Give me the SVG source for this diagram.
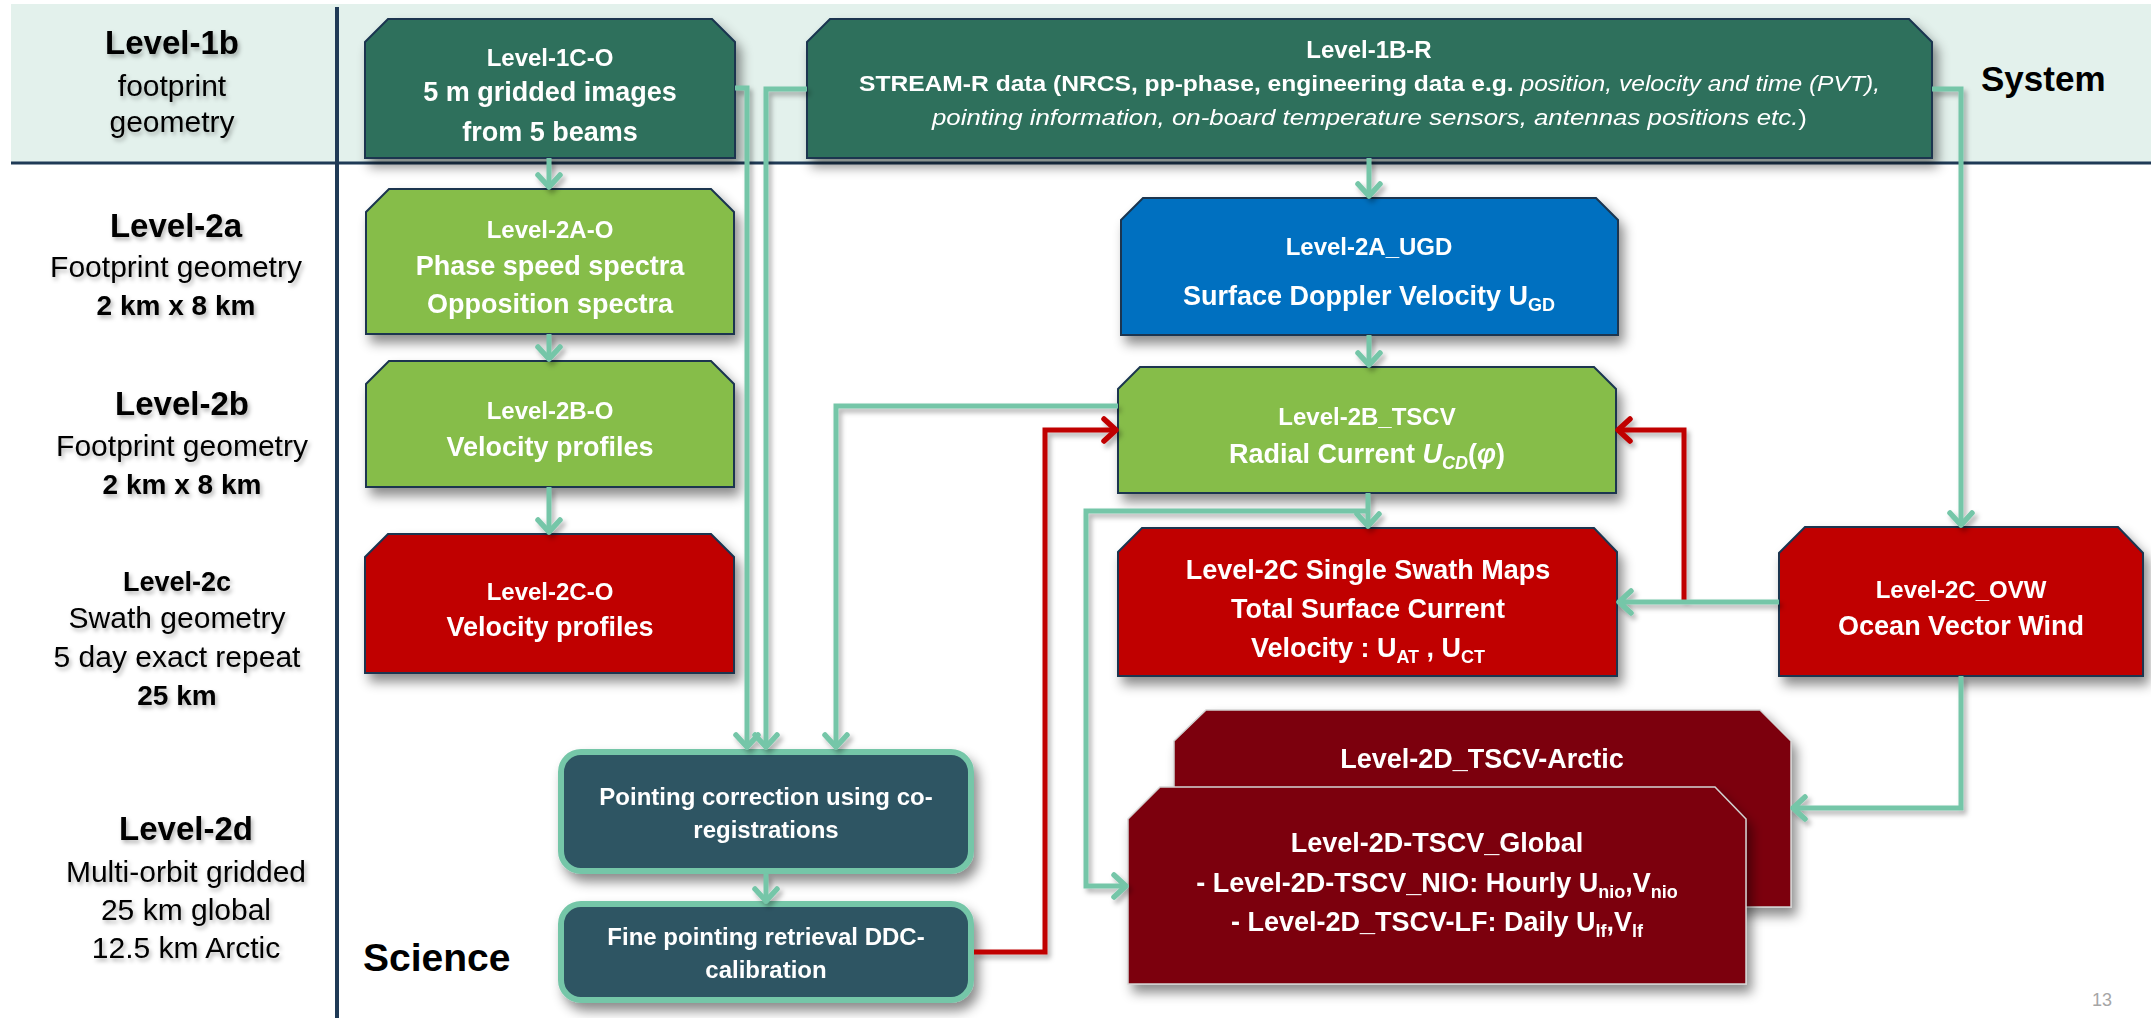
<svg xmlns="http://www.w3.org/2000/svg" width="2151" height="1018" viewBox="0 0 2151 1018">
<defs>
<style>
text{font-family:"Liberation Sans",Arial,sans-serif;}
.lb{fill:#000;font-weight:bold;text-anchor:middle;font-size:33px}
.lr{fill:#000;text-anchor:middle;font-size:30px}
.ls{fill:#000;font-weight:bold;text-anchor:middle;font-size:28px}
.nt{fill:#fff;font-weight:bold;text-anchor:middle;font-size:24px}
.nc{fill:#fff;font-weight:bold;text-anchor:middle;font-size:27px}
.node{stroke:#1b3550;stroke-width:2}
.dg{fill:#2f705c}
.lg{fill:#86bd4a}
.bl{fill:#0070c0}
.rd{fill:#c00000}
.dr{fill:#7b000b;stroke:#d4d4d4;stroke-width:1.5}
.pc{fill:#2e5463;stroke:#75c6a8;stroke-width:6}
.cm{fill:none;stroke:#75c6a8;stroke-width:5;marker-end:url(#am)}
.cr{fill:none;stroke:#c00000;stroke-width:5;marker-end:url(#ar)}
</style>
<filter id="sh" x="-10%" y="-10%" width="130%" height="140%">
<feDropShadow dx="5" dy="8" stdDeviation="6" flood-color="#000" flood-opacity="0.45"/>
</filter>
<filter id="csh" x="-10%" y="-10%" width="130%" height="130%">
<feDropShadow dx="3" dy="4" stdDeviation="2.5" flood-color="#000" flood-opacity="0.3"/>
</filter>
<filter id="tsh" x="-10%" y="-20%" width="130%" height="160%">
<feDropShadow dx="2" dy="3" stdDeviation="2" flood-color="#000" flood-opacity="0.3"/>
</filter>
<marker id="am" viewBox="0 0 20 28" refX="16" refY="14" markerWidth="20" markerHeight="28" markerUnits="userSpaceOnUse" orient="auto">
<path d="M4,3 L16,14 L4,25" fill="none" stroke="#75c6a8" stroke-width="5.5" stroke-linecap="round" stroke-linejoin="round"/>
</marker>
<marker id="ar" viewBox="0 0 20 28" refX="16" refY="14" markerWidth="20" markerHeight="28" markerUnits="userSpaceOnUse" orient="auto">
<path d="M4,3 L16,14 L4,25" fill="none" stroke="#c00000" stroke-width="5.5" stroke-linecap="round" stroke-linejoin="round"/>
</marker>
</defs>

<rect x="0" y="0" width="2151" height="1018" fill="#fff"/>
<rect x="11" y="4" width="2140" height="159" fill="#e3f1ec"/>
<line x1="11" y1="163" x2="2151" y2="163" stroke="#1f3a56" stroke-width="3"/>
<line x1="337" y1="7" x2="337" y2="1018" stroke="#1f3a56" stroke-width="4"/>

<g id="left-labels" filter="url(#tsh)">
<text class="lb" x="172" y="54">Level-1b</text>
<text class="lr" x="172" y="96">footprint</text>
<text class="lr" x="172" y="132">geometry</text>
<text class="lb" x="176" y="237">Level-2a</text>
<text class="lr" x="176" y="277">Footprint  geometry</text>
<text class="ls" x="176" y="315">2 km x 8 km</text>
<text class="lb" x="182" y="415">Level-2b</text>
<text class="lr" x="182" y="456">Footprint  geometry</text>
<text class="ls" x="182" y="494">2 km x 8 km</text>
<text class="ls" x="177" y="591" style="font-size:27px">Level-2c</text>
<text class="lr" x="177" y="628">Swath geometry</text>
<text class="lr" x="177" y="667">5 day exact repeat</text>
<text class="ls" x="177" y="705">25 km</text>
<text class="lb" x="186" y="840">Level-2d</text>
<text class="lr" x="186" y="882">Multi-orbit gridded</text>
<text class="lr" x="186" y="920">25 km global</text>
<text class="lr" x="186" y="958">12.5 km Arctic</text>
</g>
<text x="363" y="971" style="font-weight:bold;font-size:39px" fill="#000">Science</text>
<text x="1981" y="91" style="font-weight:bold;font-size:35px" fill="#000">System</text>
<text x="2092" y="1006" style="font-size:18px" fill="#a6a6a6">13</text>

<g id="n-l1c" filter="url(#sh)">
<path class="node dg" d="M365,42 L388,19 L712,19 L735,42 L735,158 L365,158 Z"/>
<text class="nt" x="550" y="66">Level-1C-O</text>
<text class="nc" x="550" y="101">5 m gridded images</text>
<text class="nc" x="550" y="141">from  5 beams</text>
</g>

<g id="n-l1b" filter="url(#sh)">
<path class="node dg" d="M807,42 L830,19 L1909,19 L1932,42 L1932,158 L807,158 Z"/>
<text class="nt" x="1369" y="58">Level-1B-R</text>
<text x="859" y="91" fill="#fff" style="font-size:22px" textLength="1021" lengthAdjust="spacingAndGlyphs"><tspan font-weight="bold">STREAM-R data  (NRCS, pp-phase, engineering data e.g. </tspan><tspan font-style="italic">position, velocity and time (PVT),</tspan></text>
<text x="932" y="125" fill="#fff" style="font-size:22px" textLength="875" lengthAdjust="spacingAndGlyphs"><tspan font-style="italic">pointing information, on-board temperature sensors, antennas positions etc.</tspan><tspan>)</tspan></text>
</g>

<g id="n-l2ao" filter="url(#sh)">
<path class="node lg" d="M366,212 L389,189 L711,189 L734,212 L734,334 L366,334 Z"/>
<text class="nt" x="550" y="238">Level-2A-O</text>
<text class="nc" x="550" y="275">Phase speed spectra</text>
<text class="nc" x="550" y="313">Opposition spectra</text>
</g>

<g id="n-l2bo" filter="url(#sh)">
<path class="node lg" d="M366,384 L389,361 L711,361 L734,384 L734,487 L366,487 Z"/>
<text class="nt" x="550" y="419">Level-2B-O</text>
<text class="nc" x="550" y="456">Velocity profiles</text>
</g>

<g id="n-l2co" filter="url(#sh)">
<path class="node rd" d="M365,557 L388,534 L711,534 L734,557 L734,673 L365,673 Z"/>
<text class="nt" x="550" y="600">Level-2C-O</text>
<text class="nc" x="550" y="636">Velocity profiles</text>
</g>

<g id="n-l2augd" filter="url(#sh)">
<path class="node bl" d="M1121,220 L1143,198 L1596,198 L1618,220 L1618,335 L1121,335 Z"/>
<text class="nt" x="1369" y="255">Level-2A_UGD</text>
<text class="nc" x="1369" y="305">Surface Doppler Velocity U<tspan dy="6" style="font-size:18px">GD</tspan></text>
</g>

<g id="n-l2btscv" filter="url(#sh)">
<path class="node lg" d="M1118,389 L1140,367 L1594,367 L1616,389 L1616,493 L1118,493 Z"/>
<text class="nt" x="1367" y="425">Level-2B_TSCV</text>
<text class="nc" x="1367" y="463">Radial Current <tspan font-style="italic">U</tspan><tspan dy="6" font-style="italic" style="font-size:18px">CD</tspan><tspan dy="-6">(</tspan><tspan font-style="italic">φ</tspan>)</text>
</g>

<g id="n-l2css" filter="url(#sh)">
<path class="node rd" d="M1118,552 L1142,528 L1594,528 L1617,552 L1617,676 L1118,676 Z"/>
<text class="nc" x="1368" y="579">Level-2C Single Swath Maps</text>
<text class="nc" x="1368" y="618">Total Surface Current</text>
<text class="nc" x="1368" y="657">Velocity  : U<tspan dy="6" style="font-size:18px">AT</tspan><tspan dy="-6"> , U</tspan><tspan dy="6" style="font-size:18px">CT</tspan></text>
</g>

<g id="n-l2covw" filter="url(#sh)">
<path class="node rd" d="M1779,553 L1805,527 L2118,527 L2143,553 L2143,676 L1779,676 Z"/>
<text class="nt" x="1961" y="598">Level-2C_OVW</text>
<text class="nc" x="1961" y="635">Ocean Vector Wind</text>
</g>

<g id="n-l2darctic" filter="url(#sh)">
<path class="dr" d="M1174,741 L1206,710 L1760,710 L1791,741 L1791,907 L1174,907 Z"/>
<text class="nc" x="1482" y="768">Level-2D_TSCV-Arctic</text>
</g>

<g id="n-l2dglobal" filter="url(#sh)">
<path class="dr" d="M1128,819 L1160,787 L1715,787 L1746,819 L1746,984 L1128,984 Z"/>
<text class="nc" x="1437" y="852">Level-2D-TSCV_Global</text>
<text class="nc" x="1437" y="892">- Level-2D-TSCV_NIO: Hourly U<tspan dy="6" style="font-size:18px">nio</tspan><tspan dy="-6">,V</tspan><tspan dy="6" style="font-size:18px">nio</tspan></text>
<text class="nc" x="1437" y="931">- Level-2D_TSCV-LF: Daily U<tspan dy="6" style="font-size:18px">lf</tspan><tspan dy="-6">,V</tspan><tspan dy="6" style="font-size:18px">lf</tspan></text>
</g>

<g id="n-pointing" filter="url(#sh)">
<rect class="pc" x="561" y="752" width="410" height="119" rx="20"/>
<text class="nt" x="766" y="805">Pointing correction using co-</text>
<text class="nt" x="766" y="838">registrations</text>
</g>

<g id="n-fine" filter="url(#sh)">
<rect class="pc" x="561" y="904" width="410" height="96" rx="20"/>
<text class="nt" x="766" y="945">Fine pointing retrieval DDC-</text>
<text class="nt" x="766" y="978">calibration</text>
</g>

<g id="connectors" filter="url(#csh)">
<path class="cm" d="M735,88 H747 V747"/>
<path class="cm" d="M807,89 H766 V747"/>
<path class="cm" d="M1118,406 H836 V747"/>
<path class="cm" d="M549,158 V187"/>
<path class="cm" d="M549,334 V359"/>
<path class="cm" d="M549,487 V532"/>
<path class="cm" d="M1369,158 V196"/>
<path class="cm" d="M1369,335 V365"/>
<path class="cm" d="M1932,89 H1961 V525"/>
<path class="cr" d="M1684,602 V430 H1618"/>
<path class="cm" d="M1779,602 H1619"/>
<path class="cm" d="M1368,493 V526"/>
<path class="cm" d="M1368,511 H1086 V886 H1126"/>
<path class="cm" d="M1961,676 V808 H1793"/>
<path class="cm" d="M766,874 V901"/>
<path class="cr" d="M974,952 H1045 V430 H1116"/>
</g>
</svg>
